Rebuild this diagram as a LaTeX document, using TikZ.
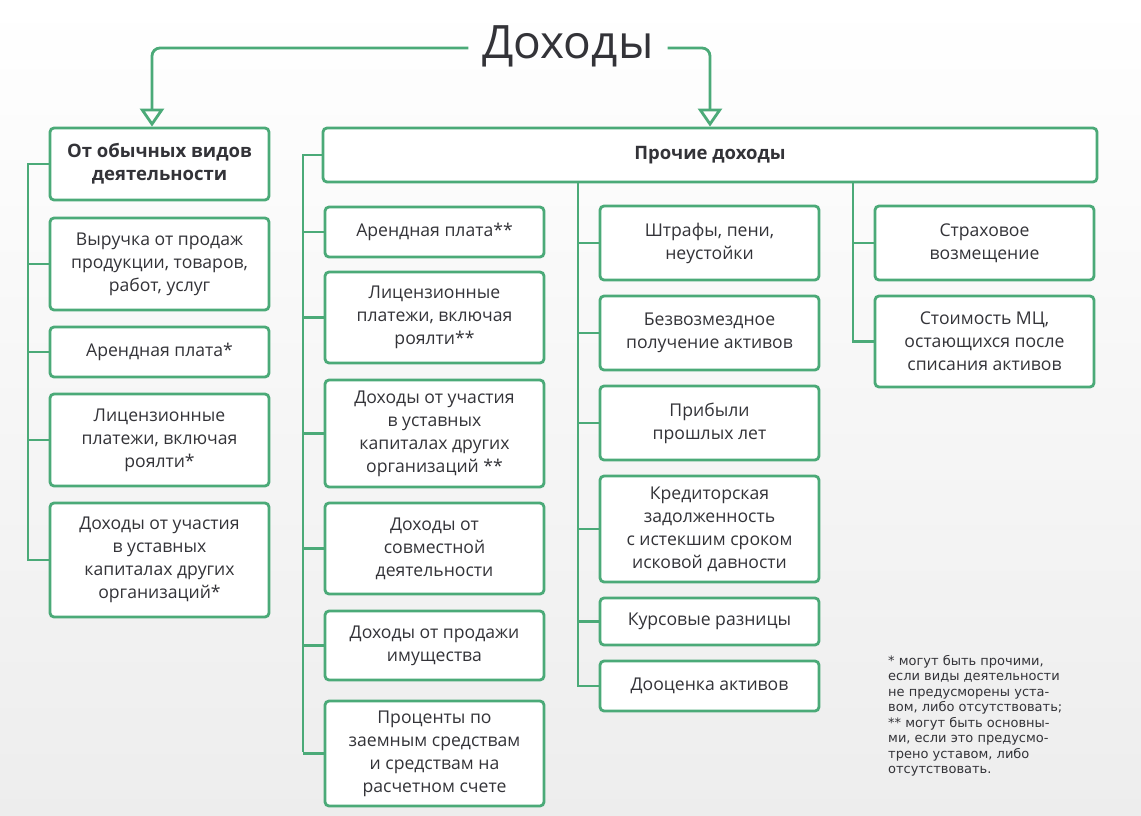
\documentclass[tikz,border=0pt]{standalone}
\usepackage{fontspec}
\setmainfont{Open Sans}
\newfontfamily\notefont{DejaVu Sans}
\usetikzlibrary{arrows.meta}
\definecolor{gr}{HTML}{4BAA78}
\definecolor{tx}{HTML}{333338}
\begin{document}
\begin{tikzpicture}[x=1pt,y=-1pt,
  bx/.style={draw=gr,line width=2.8pt,rounded corners=4pt,fill=white,align=center,text=tx,font=\fontsize{17.6}{23}\selectfont,inner sep=0pt},
  ln/.style={draw=gr,line width=2.8pt},
  ar/.style={ln,rounded corners=8pt,-{Triangle[open,width=24pt,length=18pt,line width=2.8pt]}}]
\shade[top color=white,bottom color=black!7] (0,0) rectangle (1141,815);
\useasboundingbox (0,0) rectangle (1141,815);
\newcommand\bxx[6]{\node[bx,minimum width={#4-#2},minimum height={#5-#3}] (#1) at ({(#2+#4)/2},{(#3+#5)/2}) {#6};}
\node[text=tx,font=\fontsize{46}{50}\selectfont,inner xsep=14pt] (t) at (568,46) {Доходы};
% left
\bxx{l0}{50}{128}{269}{200}{\fontsize{18.5}{24}\selectfont\bfseries От обычных видов\\\fontsize{18.5}{24}\selectfont\bfseries деятельности}
\bxx{l1}{50}{218}{269}{310}{Выручка от продаж\\продукции, товаров,\\работ, услуг}
\bxx{l2}{50}{327}{269}{377}{Арендная плата*}
\bxx{l3}{50}{394}{269}{486}{Лицензионные\\платежи, включая\\роялти*}
\bxx{l4}{50}{503}{269}{617}{Доходы от участия\\в уставных\\капиталах других\\организаций*}
% middle header
\bxx{m0}{323}{128}{1097}{182}{\fontsize{18.5}{24}\selectfont\bfseries Прочие доходы}
\bxx{a1}{325}{207}{544}{257}{Арендная плата**}
\bxx{a2}{325}{272}{544}{363}{Лицензионные\\платежи, включая\\роялти**}
\bxx{a3}{325}{380}{544}{487}{Доходы от участия\\в уставных\\капиталах других\\организаций **}
\bxx{a4}{325}{503}{544}{594}{Доходы от\\совместной\\деятельности}
\bxx{a5}{325}{611}{544}{680}{Доходы от продажи\\имущества}
\bxx{a6}{325}{701}{544}{806}{Проценты по\\заемным средствам\\и средствам на\\расчетном счете}
\bxx{b1}{600}{206}{819}{280}{Штрафы, пени,\\неустойки}
\bxx{b2}{600}{296}{819}{370}{Безвозмездное\\получение активов}
\bxx{b3}{600}{386}{819}{460}{Прибыли\\прошлых лет}
\bxx{b4}{600}{476}{819}{582}{Кредиторская\\задолженность\\с истекшим сроком\\исковой давности}
\bxx{b5}{600}{598}{819}{645}{Курсовые разницы}
\bxx{b6}{600}{661}{819}{711}{Дооценка активов}
\bxx{c1}{875}{206}{1094}{280}{Страховое\\возмещение}
\bxx{c2}{875}{296}{1094}{387}{Стоимость МЦ,\\остающихся после\\списания активов}
% title arrows
\coordinate (tl) at (152,48); \coordinate (tr) at (710,48);
\draw[ar] (t.west |- tl) -- (tl) -- (l0.north -| tl);
\draw[ar] (t.east |- tr) -- (tr) -- (m0.north -| tr);
% spines
\coordinate (sl) at (28,0); \coordinate (sa) at (303,0);
\coordinate (sb) at (578,0); \coordinate (sc) at (853,0);
\draw[ln] (l0.west) -- (sl |- l0.west) -- (sl |- l4.west) -- (l4.west);
\foreach \n in {l1,l2,l3} \draw[ln] (sl |- \n.west) -- (\n.west);
\draw[ln] (m0.west) -- (sa |- m0.west) -- (sa |- 0,752);
\foreach \n in {a1,a2,a3,a4,a5,a6} \draw[ln] (sa |- \n.west) -- (\n.west);
\draw[ln] (sb |- m0.south) -- (sb |- b6.west) -- (b6.west);
\foreach \n in {b1,b2,b3,b4,b5} \draw[ln] (sb |- \n.west) -- (\n.west);
\draw[ln] (sc |- m0.south) -- (sc |- c2.west) -- (c2.west);
\draw[ln] (sc |- c1.west) -- (c1.west);
\node[anchor=north west,align=left,text=tx,font=\notefont\fontsize{13}{15.5}\selectfont,inner sep=0pt] (note) at (888,655)
{* могут быть прочими,\\если виды деятельности\\не предусморены уста-\\вом, либо отсутствовать;\\** могут быть основны-\\ми, если это предусмо-\\трено уставом, либо\\отсутствовать.};
\end{tikzpicture}
\end{document}
